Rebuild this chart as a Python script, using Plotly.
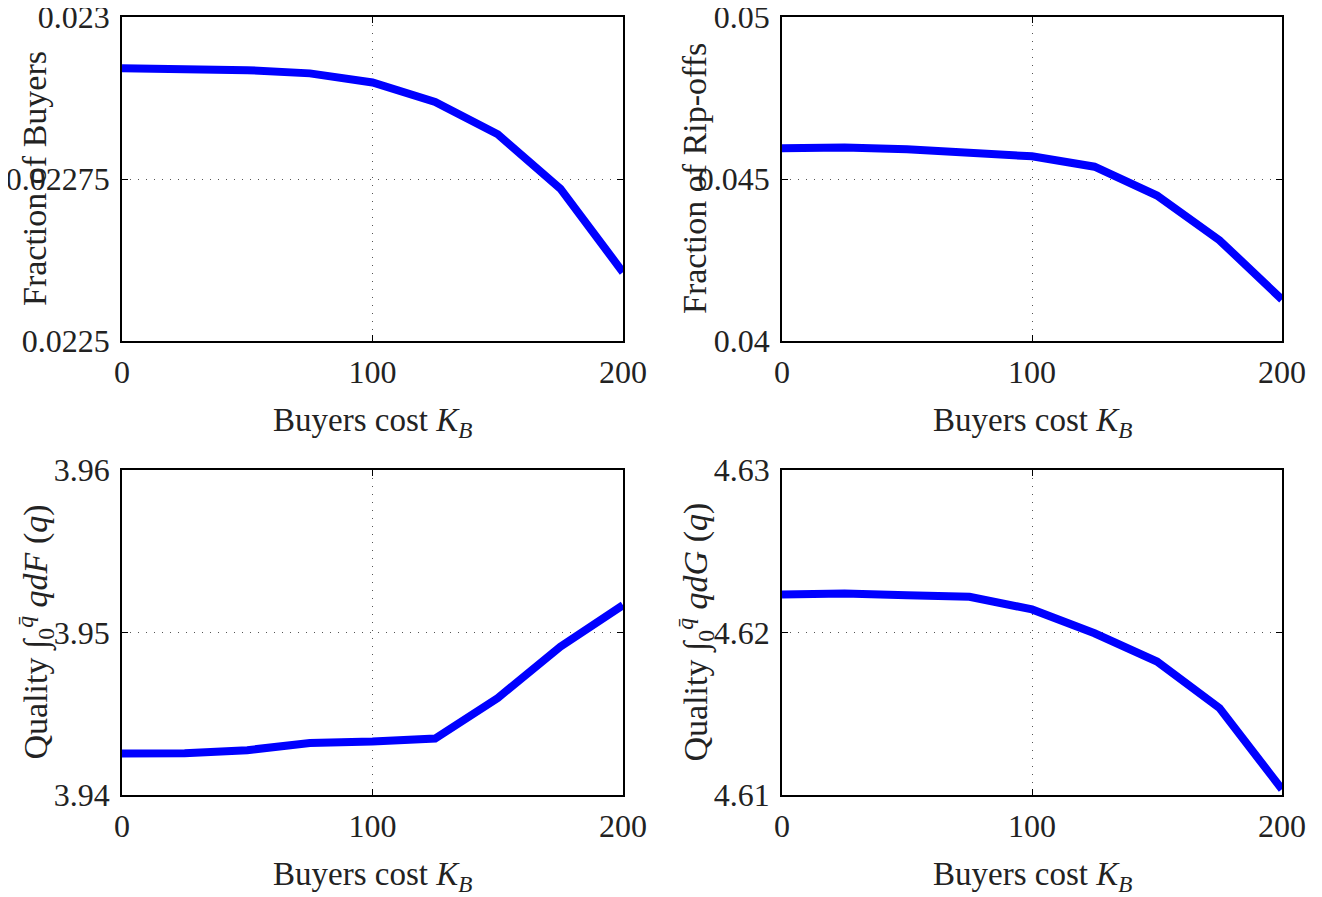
import plotly.graph_objects as go

# ---- data ----
buyers_cost = [0, 25, 50, 75, 100, 125, 150, 175, 200]
frac_buyers = [0.022921, 0.022920, 0.022918, 0.022913, 0.022899, 0.022869, 0.022819, 0.022735, 0.022606]
frac_ripoffs = [0.04595, 0.04597, 0.04592, 0.04582, 0.04570, 0.04538, 0.04449, 0.04311, 0.04128]
quality_F = [3.94255, 3.94257, 3.94276, 3.94320, 3.94329, 3.94347, 3.94597, 3.94913, 3.95168]
quality_G = [4.62234, 4.62240, 4.62230, 4.62220, 4.62142, 4.61995, 4.61821, 4.61535, 4.61035]

x_ticks = [0, 100, 200]
x_ticktext = ["0", "100", "200"]
yt_buyers = [0.0225, 0.02275, 0.023]
yt_buyers_text = ["0.0225", "0.02275", "0.023"]
yt_ripoffs = [0.04, 0.045, 0.05]
yt_ripoffs_text = ["0.04", "0.045", "0.05"]
yt_qF = [3.94, 3.95, 3.96]
yt_qF_text = ["3.94", "3.95", "3.96"]
yt_qG = [4.61, 4.62, 4.63]
yt_qG_text = ["4.61", "4.62", "4.63"]

x_label = "Buyers cost <i>K</i><sub><i>B</i></sub>"
y_labels = [
    "Fraction of Buyers",
    "Fraction of Rip-offs",
    "Quality ∫<sub>0</sub><sup><i>q̄</i></sup> <i>qdF</i> (<i>q</i>)",
    "Quality ∫<sub>0</sub><sup><i>q̄</i></sup> <i>qdG</i> (<i>q</i>)",
]

FONT = "Liberation Serif"
TXT = "#222222"
W, H = 1322, 897
OFF = 8  # page body margin offset

# panel pixel boxes on screen: (left, right, top, bottom)
boxes = [
    (122, 623, 17, 341),
    (782, 1282, 17, 341),
    (122, 623, 470, 795),
    (782, 1282, 470, 795),
]
series = [frac_buyers, frac_ripoffs, quality_F, quality_G]
yticks = [(yt_buyers, yt_buyers_text), (yt_ripoffs, yt_ripoffs_text),
          (yt_qF, yt_qF_text), (yt_qG, yt_qG_text)]

fig = go.Figure()
layout = dict(width=W, height=H, margin=dict(l=0, r=0, t=0, b=0, autoexpand=False),
              paper_bgcolor="white", plot_bgcolor="white", showlegend=False,
              font=dict(family=FONT, color=TXT))
annotations = []
for i, (box, ys, (tv, tt)) in enumerate(zip(boxes, series, yticks)):
    l, r, t, b = [v - OFF for v in box]
    n = "" if i == 0 else str(i + 1)
    xa, ya = "x" + n, "y" + n
    fig.add_trace(go.Scatter(x=buyers_cost, y=ys, mode="lines",
                             line=dict(color="#0000ff", width=8),
                             xaxis=xa, yaxis=ya, hoverinfo="skip"))
    common = dict(showline=True, linecolor="black", linewidth=1.5, mirror="ticks",
                  ticks="inside", ticklen=6, tickcolor="black", tickwidth=1,
                  showgrid=True, gridcolor="#555555", griddash="1px,7px", gridwidth=1,
                  zeroline=False, automargin=False, ticklabeloverflow="allow",
                  tickfont=dict(family=FONT, size=32, color=TXT))
    layout["xaxis" + n] = dict(common, domain=[l / W, r / W], anchor=ya,
                               range=[0, 200], tickvals=x_ticks, ticktext=x_ticktext,
                               ticklabelstandoff=2)
    layout["yaxis" + n] = dict(common, domain=[1 - b / H, 1 - t / H], anchor=xa,
                               range=[tv[0], tv[-1]], tickvals=tv, ticktext=tt,
                               ticklabelstandoff=4)
    cx = (l + r) / 2
    annotations.append(dict(text=x_label, x=cx / W, y=1 - (b + 81) / H,
                            xref="paper", yref="paper", showarrow=False,
                            xanchor="center", yanchor="middle",
                            font=dict(family=FONT, size=33, color=TXT)))
    annotations.append(dict(text=y_labels[i], x=(l - 87) / W, y=1 - ((t + b) / 2) / H,
                            xref="paper", yref="paper", showarrow=False,
                            textangle=-90, xanchor="center", yanchor="middle",
                            font=dict(family=FONT, size=34, color=TXT)))
layout["annotations"] = annotations
fig.update_layout(**layout)
fig.write_html("out.html")
